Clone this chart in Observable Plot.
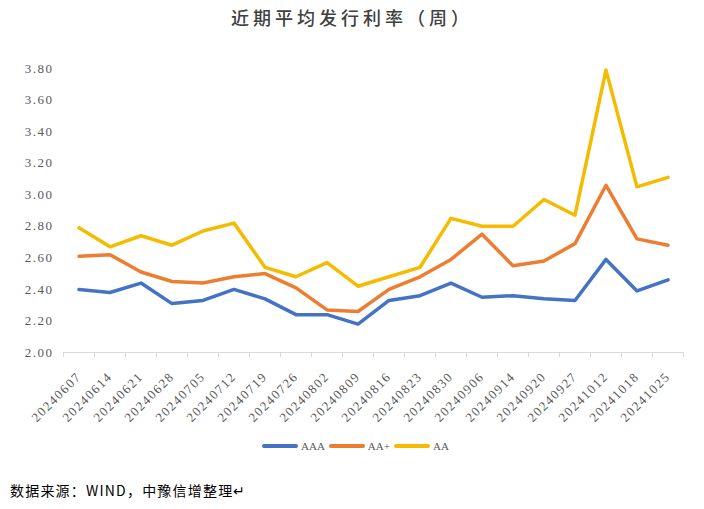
<!DOCTYPE html>
<html><head><meta charset="utf-8">
<script src="https://cdn.jsdelivr.net/npm/d3@7"></script>
<script src="https://cdn.jsdelivr.net/npm/@observablehq/plot@0.6"></script>
<style>
body{margin:0;background:#fff;width:704px;height:509px;position:relative;overflow:hidden}
#title{position:absolute;top:4px;left:0;width:704px;text-align:center;font:500 18px "Noto Sans CJK SC";letter-spacing:4px;color:#404040;line-height:26px}
#chart{position:absolute;top:34px;left:0}
#legend{position:absolute;top:438px;left:262px;display:flex;align-items:center;height:16px;font:11px "Liberation Serif";color:#595959}
#legend .sw{width:36px;height:4px;border-radius:2px;margin-right:3px}
#legend .lb{margin-right:4px}
#source{position:absolute;left:10px;top:480px;font:14px "Noto Sans CJK SC";letter-spacing:1.2px;color:#000;line-height:20px}
</style></head>
<body>
<div id="title">近期平均发行利率（周）</div>
<div id="chart"></div>
<div id="legend"></div>
<div id="source">数据来源：WIND，中豫信增整理↵</div>
<script>
const dates = ["20240607","20240614","20240621","20240628","20240705","20240712","20240719","20240726","20240802","20240809","20240816","20240823","20240830","20240906","20240914","20240920","20240927","20241012","20241018","20241025"];
const seriesNames = ["AAA","AA+","AA"];
const AAA = [2.40,2.38,2.44,2.31,2.33,2.40,2.34,2.24,2.24,2.18,2.33,2.36,2.44,2.35,2.36,2.34,2.33,2.59,2.39,2.46];
const AAplus = [2.61,2.62,2.51,2.45,2.44,2.48,2.50,2.41,2.27,2.26,2.40,2.48,2.59,2.75,2.55,2.58,2.69,3.06,2.72,2.68];
const AA = [2.79,2.67,2.74,2.68,2.77,2.82,2.54,2.48,2.57,2.42,2.48,2.54,2.85,2.80,2.80,2.97,2.87,3.79,3.05,3.11];
const yTicks = [2.0,2.2,2.4,2.6,2.8,3.0,3.2,3.4,3.6,3.8];
const colors = ["#4472C4","#ED7D31","#F5BB00"];

const seriesValues = [AAA, AAplus, AA];
const rows = [];
seriesValues.forEach((vals, s) => vals.forEach((v, i) => rows.push({i, date: dates[i], value: v, series: seriesNames[s]})));
const idx = dates.map((d, i) => i);
const bounds = d3.range(dates.length + 1).map(i => i - 0.5);

const chart = Plot.plot({
  width: 704, height: 400,
  marginLeft: 63, marginRight: 21, marginTop: 34, marginBottom: 82,
  style: {fontFamily: "Liberation Serif", fontSize: "13px", color: "#595959", background: "#fff", overflow: "visible"},
  x: {type: "linear", domain: [-0.5, dates.length - 0.5], axis: null},
  y: {domain: [2.0, 3.8], axis: null},
  color: {domain: seriesNames, range: colors},
  marks: [
    Plot.axisY({ticks: yTicks, tickSize: 0, tickPadding: 10, tickFormat: d => d.toFixed(2), fontSize: 13, label: null}),
    Plot.ruleY([2.0], {stroke: "#d9d9d9", strokeWidth: 1}),
    Plot.axisX({ticks: bounds, tickSize: 5, tickFormat: () => "", stroke: "#d9d9d9", label: null}),
    Plot.axisX({ticks: idx, tickSize: 0, tickPadding: 22, tickRotate: -45, tickFormat: i => dates[i], fontSize: 13, label: null}),
    Plot.line(rows, {x: "i", y: "value", z: "series", stroke: "series", strokeWidth: 3.5, strokeLinejoin: "round", strokeLinecap: "round"})
  ]
});
chart.querySelectorAll("text").forEach(t => t.style.letterSpacing = "1.5px");
document.getElementById("chart").appendChild(chart);

const lg = document.getElementById("legend");
seriesNames.forEach((n, s) => {
  const sw = document.createElement("div"); sw.className = "sw"; sw.style.background = colors[s];
  const lb = document.createElement("span"); lb.className = "lb"; lb.textContent = n;
  lg.appendChild(sw); lg.appendChild(lb);
});
</script>
</body></html>
